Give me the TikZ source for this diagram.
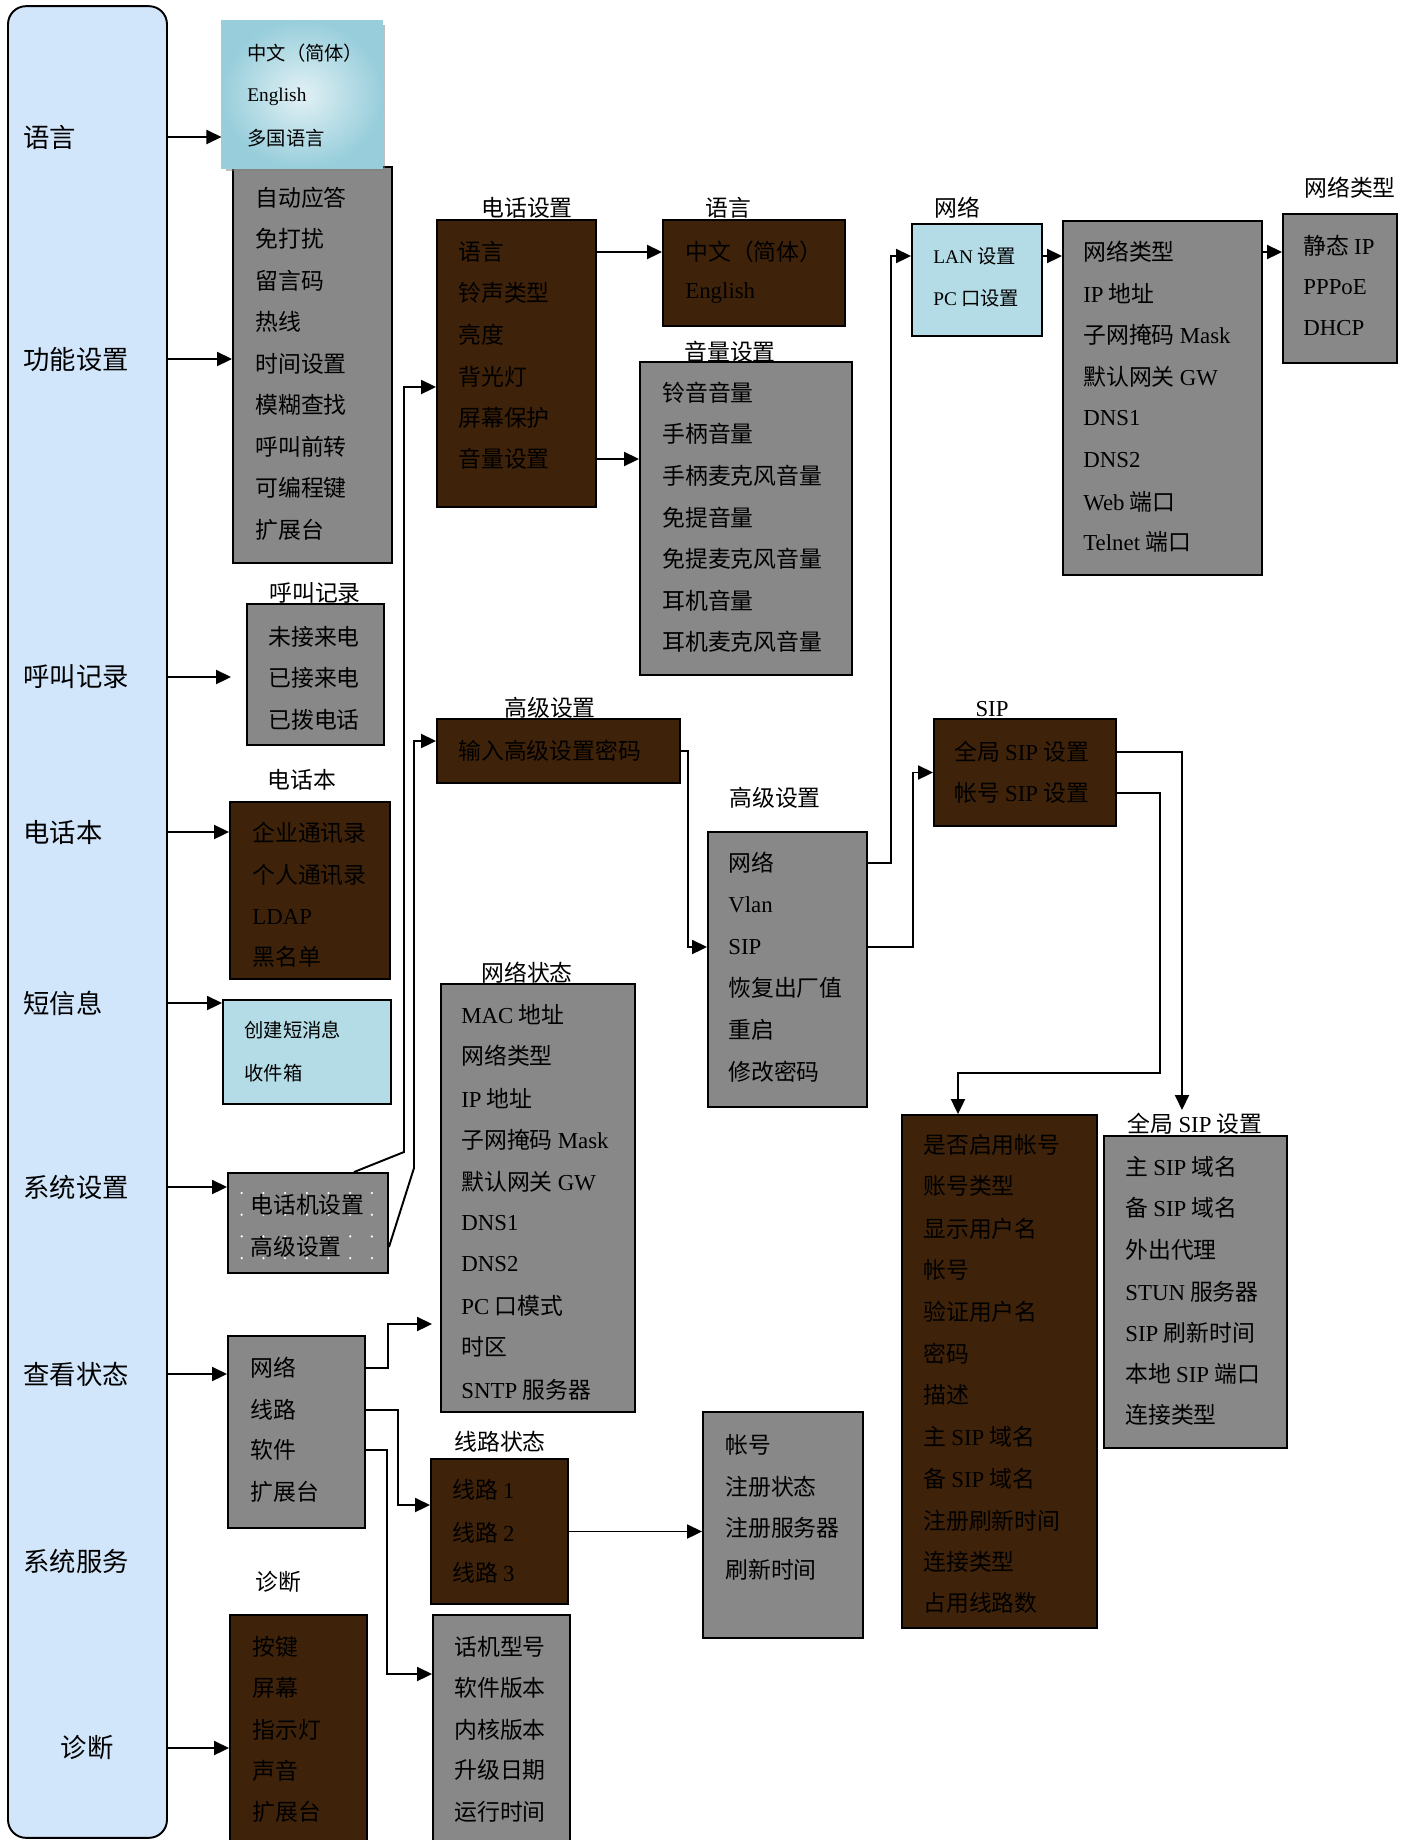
\documentclass[tikz,border=0pt]{standalone}
\usepackage{fontspec}
\setmainfont{Noto Sans CJK SC}
\newfontfamily\entxt{Liberation Serif}
\usetikzlibrary{arrows.meta,shadows}
\definecolor{colblue}{RGB}{210,230,251}
\definecolor{boxgray}{RGB}{136,136,136}
\definecolor{boxbrown}{RGB}{62,34,9}
\definecolor{boxblue}{RGB}{180,220,230}
\definecolor{langdark}{RGB}{152,206,219}
\definecolor{langlight}{RGB}{226,241,245}
\begin{document}
\begin{tikzpicture}[x=0.02cm, y=-0.02cm,
  gbox/.style={draw, line width=1.1pt, fill=boxgray, inner sep=0},
  bbox/.style={draw, line width=1.1pt, fill=boxbrown, inner sep=0},
  lbox/.style={draw, line width=1.1pt, fill=boxblue, inner sep=0},
  item/.style={anchor=west, inner sep=0, text=black, font=\fontsize{13}{15}\selectfont},
  sitem/.style={anchor=west, inner sep=0, text=black, font=\fontsize{11}{13}\selectfont},
  ttl/.style={inner sep=0, font=\fontsize{13}{15}\selectfont},
  menu/.style={anchor=west, inner sep=0, font=\fontsize{15}{18}\selectfont},
  arr/.style={line width=1.1pt, -{Triangle[length=0.3cm,width=0.28cm]}}]
\useasboundingbox (0,0) rectangle (1406,1840);

\node[draw, line width=1.1pt, fill=colblue, rounded corners=0.36cm, inner sep=0,
  minimum width=3.18cm, minimum height=36.64cm] (col) at (87.5,922) {};
\node[menu] (l1) at (23,137) {语言};
\node[menu] (l2) at (23,359) {功能设置};
\node[menu] (l3) at (23,677) {呼叫记录};
\node[menu] (l4) at (23,832) {电话本};
\node[menu] (l5) at (23,1003) {短信息};
\node[menu] (l6) at (23,1187) {系统设置};
\node[menu] (l7) at (23,1374) {查看状态};
\node[menu] (l8) at (23,1561) {系统服务};
\node[menu, anchor=center] (l9) at (87,1748) {诊断};

\node[gbox, minimum width=3.18cm, minimum height=7.92cm] (fn) at (312.5,365) {};
\node[item] (f1) at (255,198) {自动应答};
\node[item] (f2) at (255,239) {免打扰};
\node[item] (f3) at (255,281) {留言码};
\node[item] (f4) at (255,322) {热线};
\node[item] (f5) at (255,364) {时间设置};
\node[item] (f6) at (255,405) {模糊查找};
\node[item] (f7) at (255,447) {呼叫前转};
\node[item] (f8) at (255,488) {可编程键};
\node[item] (f9) at (255,530) {扩展台};

\node[draw=langdark, line width=0.6pt, inner color=langlight, outer color=langdark,
  drop shadow={shadow xshift=0.07cm, shadow yshift=-0.07cm},
  inner sep=0, minimum width=3.2cm, minimum height=2.94cm] (lang) at (302,94.5) {};
\node[sitem] (g1) at (247,53) {中文（简体）};
\node[sitem] (g2) at (247,97) {\entxt English};
\node[sitem] (g3) at (247,138) {多国语言};

\node[ttl] (t1) at (315,593) {呼叫记录};
\node[gbox, minimum width=2.74cm, minimum height=2.82cm] (cr) at (315.5,674.5) {};
\node[item] (c1) at (268,637) {未接来电};
\node[item] (c2) at (268,678) {已接来电};
\node[item] (c3) at (268,720) {已拨电话};

\node[ttl] (t2) at (302,780) {电话本};
\node[bbox, minimum width=3.2cm, minimum height=3.54cm] (pb) at (310,890.5) {};
\node[item] (b1) at (252,833) {企业通讯录};
\node[item] (b2) at (252,875) {个人通讯录};
\node[item] (b3) at (252,917) {\entxt LDAP};
\node[item] (b4) at (252,957) {黑名单};

\node[lbox, minimum width=3.36cm, minimum height=2.08cm] (sms) at (307,1052) {};
\node[sitem] (m1) at (244,1030) {创建短消息};
\node[sitem] (m2) at (244,1073) {收件箱};

\node[gbox, minimum width=3.2cm, minimum height=2cm] (sys) at (308,1223) {};
\foreach \i in {0,...,6}
  \foreach \j in {0,...,3}
    \fill[white] (241.7+21.7*\i,1193+21.7*\j) circle (0.025cm);
\node[item] (s1) at (250,1205) {电话机设置};
\node[item] (s2) at (250,1247) {高级设置};

\node[ttl] (t3) at (527,208) {电话设置};
\node[bbox, minimum width=3.18cm, minimum height=5.74cm] (ph) at (516.5,363.5) {};
\node[item] (p1) at (458,252) {语言};
\node[item] (p2) at (458,293) {铃声类型};
\node[item] (p3) at (458,335) {亮度};
\node[item] (p4) at (458,377) {背光灯};
\node[item] (p5) at (458,418) {屏幕保护};
\node[item] (p6) at (458,459) {音量设置};

\node[ttl] (t4) at (728,208) {语言};
\node[bbox, minimum width=3.64cm, minimum height=2.12cm] (lg) at (754,273) {};
\node[item] (e1) at (685,252) {中文（简体）};
\node[item] (e2) at (685,293) {\entxt English};

\node[ttl] (t5) at (730,352) {音量设置};
\node[gbox, minimum width=4.24cm, minimum height=6.26cm] (vol) at (746,518.5) {};
\node[item] (o1) at (662,393) {铃音音量};
\node[item] (o2) at (662,434) {手柄音量};
\node[item] (o3) at (662,476) {手柄麦克风音量};
\node[item] (o4) at (662,518) {免提音量};
\node[item] (o5) at (662,559) {免提麦克风音量};
\node[item] (o6) at (662,601) {耳机音量};
\node[item] (o7) at (662,642) {耳机麦克风音量};

\node[ttl] (t6) at (957,208) {网络};
\node[lbox, minimum width=2.6cm, minimum height=2.24cm] (lan) at (977,280) {};
\node[sitem] (n1) at (933,256) {{\entxt LAN} 设置};
\node[sitem] (n2) at (933,298) {{\entxt PC} 口设置};

\node[gbox, minimum width=3.98cm, minimum height=7.08cm] (net) at (1162.5,398) {};
\node[item] (q1) at (1083,252) {网络类型};
\node[item] (q2) at (1083,294) {{\entxt IP} 地址};
\node[item] (q3) at (1083,335) {子网掩码 {\entxt Mask}};
\node[item] (q4) at (1083,377) {默认网关 {\entxt GW}};
\node[item] (q5) at (1083,418) {\entxt DNS1};
\node[item] (q6) at (1083,460) {\entxt DNS2};
\node[item] (q7) at (1083,502) {{\entxt Web} 端口};
\node[item] (q8) at (1083,542) {{\entxt Telnet} 端口};

\node[ttl] (t7) at (1350,188) {网络类型};
\node[gbox, minimum width=2.28cm, minimum height=2.98cm] (nt) at (1340,288.5) {};
\node[item] (w1) at (1303,246) {静态 {\entxt IP}};
\node[item] (w2) at (1303,287) {\entxt PPPoE};
\node[item] (w3) at (1303,328) {\entxt DHCP};

\node[ttl] (t8) at (550,708) {高级设置};
\node[bbox, minimum width=4.86cm, minimum height=1.28cm] (adv1) at (558.5,751) {};
\node[item] (h1) at (458,751) {输入高级设置密码};

\node[ttl] (t9) at (775,798) {高级设置};
\node[gbox, minimum width=3.18cm, minimum height=5.5cm] (adv2) at (787.5,969.5) {};
\node[item] (a1) at (728,863) {网络};
\node[item] (a2) at (728,905) {\entxt Vlan};
\node[item] (a3) at (728,947) {\entxt SIP};
\node[item] (a4) at (728,988) {恢复出厂值};
\node[item] (a5) at (728,1030) {重启};
\node[item] (a6) at (728,1072) {修改密码};

\node[ttl] (t10) at (992,709) {\entxt SIP};
\node[bbox, minimum width=3.64cm, minimum height=2.14cm] (sip) at (1025,772.5) {};
\node[item] (r1) at (954,752) {全局 {\entxt SIP} 设置};
\node[item] (r2) at (954,793) {帐号 {\entxt SIP} 设置};

\node[bbox, minimum width=3.9cm, minimum height=10.26cm] (acc) at (999.5,1371.5) {};
\node[item] (u1) at (923,1145) {是否启用帐号};
\node[item] (u2) at (923,1186) {账号类型};
\node[item] (u3) at (923,1229) {显示用户名};
\node[item] (u4) at (923,1270) {帐号};
\node[item] (u5) at (923,1312) {验证用户名};
\node[item] (u6) at (923,1354) {密码};
\node[item] (u7) at (923,1395) {描述};
\node[item] (u8) at (923,1437) {主 {\entxt SIP} 域名};
\node[item] (u9) at (923,1479) {备 {\entxt SIP} 域名};
\node[item] (u10) at (923,1521) {注册刷新时间};
\node[item] (u11) at (923,1562) {连接类型};
\node[item] (u12) at (923,1603) {占用线路数};

\node[ttl] (t11) at (1195,1124) {全局 {\entxt SIP} 设置};
\node[gbox, minimum width=3.66cm, minimum height=6.24cm] (gsip) at (1195.5,1292) {};
\node[item] (z1) at (1125,1167) {主 {\entxt SIP} 域名};
\node[item] (z2) at (1125,1208) {备 {\entxt SIP} 域名};
\node[item] (z3) at (1125,1250) {外出代理};
\node[item] (z4) at (1125,1292) {{\entxt STUN} 服务器};
\node[item] (z5) at (1125,1333) {{\entxt SIP} 刷新时间};
\node[item] (z6) at (1125,1374) {本地 {\entxt SIP} 端口};
\node[item] (z7) at (1125,1415) {连接类型};

\node[ttl] (t12) at (527,973) {网络状态};
\node[gbox, minimum width=3.88cm, minimum height=8.56cm] (ns) at (538,1198) {};
\node[item] (x1) at (461,1015) {{\entxt MAC} 地址};
\node[item] (x2) at (461,1056) {网络类型};
\node[item] (x3) at (461,1099) {{\entxt IP} 地址};
\node[item] (x4) at (461,1140) {子网掩码 {\entxt Mask}};
\node[item] (x5) at (461,1182) {默认网关 {\entxt GW}};
\node[item] (x6) at (461,1223) {\entxt DNS1};
\node[item] (x7) at (461,1264) {\entxt DNS2};
\node[item] (x8) at (461,1306) {{\entxt PC} 口模式};
\node[item] (x9) at (461,1347) {时区};
\node[item] (x10) at (461,1390) {{\entxt SNTP} 服务器};

\node[gbox, minimum width=2.74cm, minimum height=3.84cm] (st) at (296.5,1432) {};
\node[item] (v1) at (250,1368) {网络};
\node[item] (v2) at (250,1410) {线路};
\node[item] (v3) at (250,1450) {软件};
\node[item] (v4) at (250,1492) {扩展台};

\node[ttl] (t13) at (500,1442) {线路状态};
\node[bbox, minimum width=2.74cm, minimum height=2.9cm] (ls) at (499.5,1531.5) {};
\node[item] (y1) at (452,1490) {线路 {\entxt 1}};
\node[item] (y2) at (452,1533) {线路 {\entxt 2}};
\node[item] (y3) at (452,1573) {线路 {\entxt 3}};

\node[gbox, minimum width=3.2cm, minimum height=4.52cm] (la) at (783,1525) {};
\node[item] (i1) at (725,1445) {帐号};
\node[item] (i2) at (725,1487) {注册状态};
\node[item] (i3) at (725,1528) {注册服务器};
\node[item] (i4) at (725,1570) {刷新时间};

\node[gbox, minimum width=2.74cm, minimum height=4.7cm] (sw) at (501.5,1732.5) {};
\node[item] (j1) at (454,1647) {话机型号};
\node[item] (j2) at (454,1688) {软件版本};
\node[item] (j3) at (454,1730) {内核版本};
\node[item] (j4) at (454,1770) {升级日期};
\node[item] (j5) at (454,1812) {运行时间};

\node[ttl] (t14) at (278,1582) {诊断};
\node[bbox, minimum width=2.74cm, minimum height=4.7cm] (dg) at (298.5,1732.5) {};
\node[item] (d1) at (252,1647) {按键};
\node[item] (d2) at (252,1688) {屏幕};
\node[item] (d3) at (252,1730) {指示灯};
\node[item] (d4) at (252,1771) {声音};
\node[item] (d5) at (252,1812) {扩展台};

\coordinate (k1) at (404,1152);
\coordinate (k2) at (404,387);
\coordinate (k3) at (414,1168);
\coordinate (k4) at (414,741);
\coordinate (k5) at (1182,1110);
\coordinate (k6) at (1160,1073);
\coordinate (k7) at (958,1073);
\coordinate (k8) at (388,1324);
\coordinate (k9) at (398,1505);
\coordinate (k10) at (387,1674);

\draw[arr] (col.east |- l1) -- (lang.west |- l1);
\draw[arr] (col.east |- l2) -- (fn.west |- l2);
\draw[arr, shorten >=0.3cm] (col.east |- l3) -- (cr.west |- l3);
\draw[arr] (col.east |- l4) -- (pb.west |- l4);
\draw[arr] (col.east |- l5) -- (sms.west |- l5);
\draw[arr] (col.east |- l6) -- (sys.west |- l6);
\draw[arr] (col.east |- l7) -- (st.west |- l7);
\draw[arr] (col.east |- l9) -- (dg.west |- l9);

\draw[arr] ([xshift=-0.7cm]sys.north east) -- (k1) -- (k2) -- (ph.west |- k2);
\draw[arr] (sys.east |- s2) -- (k3) -- (k4) -- (adv1.west |- k4);
\draw[arr] (ph.east |- p1) -- (lg.west |- p1);
\draw[arr] (ph.east |- p6) -- (vol.west |- p6);
\draw[arr] (adv1.east) -- ++(0.14cm,0) |- (adv2.west |- a3);
\draw[arr] (adv2.east |- a1) -- ++(0.46cm,0) |- (lan.west |- n1);
\draw[arr] (adv2.east |- a3) -- ++(0.9cm,0) |- (sip.west);
\draw[arr] (lan.east |- n1) -- (net.west |- n1);
\draw[arr] (net.east |- q1) -- (nt.west |- q1);
\draw[arr] (sip.east |- r1) -| (k5);
\draw[arr] (sip.east |- r2) -| (k6) -- (k7) -- (k7 |- acc.north);
\draw[arr] (st.east |- v1) -| (k8) -- ([xshift=-0.16cm]ns.west |- k8);
\draw[arr] (st.east |- v2) -| (k9) -- (ls.west |- k9);
\draw[arr] (st.east |- v3) -| (k10) -- (sw.west |- k10);
\draw[arr] (ls.east) -- (la.west |- ls.east);
\end{tikzpicture}
\end{document}
